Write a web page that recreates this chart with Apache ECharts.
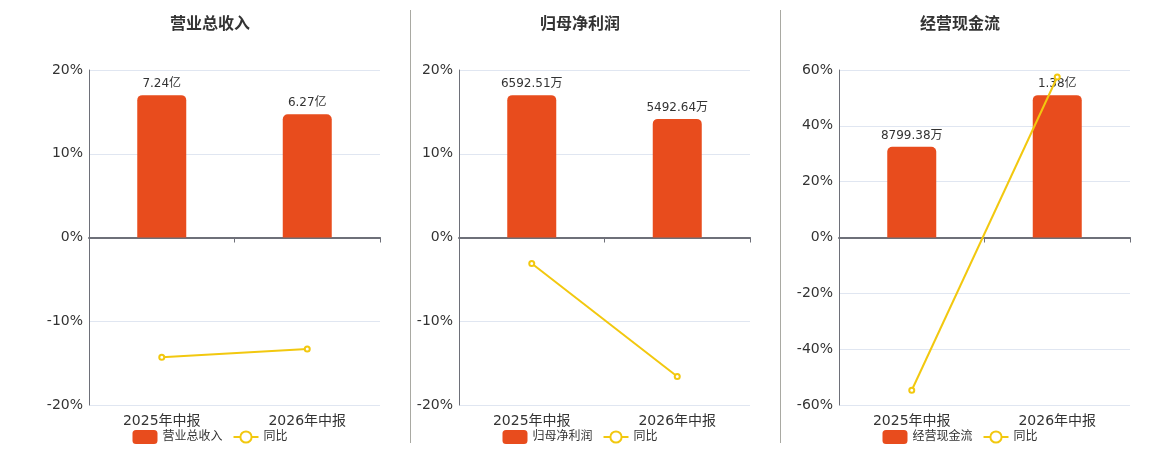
<!DOCTYPE html>
<html>
<head>
<meta charset="utf-8">
<script src="https://cdn.jsdelivr.net/npm/echarts@6/dist/echarts.min.js"></script>
<style>
  html, body { margin: 0; padding: 0; background: #fff; }
  .wrap { position: relative; width: 1160px; height: 450px; }
  .panel { position: absolute; top: 0; width: 370px; height: 450px; }
  .divider { position: absolute; top: 10px; height: 433px; width: 1px; background: #a9a9a2; }
</style>
</head>
<body>
<div class="wrap">
  <div id="c1" class="panel" style="left:25px"></div>
  <div id="c2" class="panel" style="left:395px"></div>
  <div id="c3" class="panel" style="left:775px"></div>
  <div class="divider" style="left:410px"></div>
  <div class="divider" style="left:780px"></div>
</div>
<script>
// periods
const categories = ['2025年中报', '2026年中报'];

// bar values in 万元
const revenueValues = [72400, 62700];
const profitValues = [6592.51, 5492.64];
const cashflowValues = [8799.38, 13800];

// year-over-year change, %
const revenueYoy = [-14.3, -13.3];
const profitYoy = [-3.1, -16.6];
const cashflowYoy = [-54.7, 57.5];

// percent axis: min, max, interval
const revenueAxis = [-20, 20, 10];
const profitAxis = [-20, 20, 10];
const cashflowAxis = [-60, 60, 20];

const BAR_COLOR = '#e84c1d';
const LINE_COLOR = '#f2c80f';
const FONT = 'DejaVu Sans, "Noto Sans CJK SC", sans-serif';

function fmtMoney(v) {
  if (v >= 10000) return (v / 10000).toFixed(2) + '亿';
  return v.toFixed(2) + '万';
}

function makeChart(id, title, name, bars, yoy, pctAxis) {
  const chart = echarts.init(document.getElementById(id));
  // bars sit on a hidden axis symmetric around zero so 0 lines up with 0%
  const barMax = Math.max(...bars) / 0.85;
  chart.setOption({
    animation: false,
    textStyle: { fontFamily: FONT },
    title: {
      text: title,
      left: 'center',
      top: 12,
      textStyle: { fontSize: 16, fontWeight: 'bold', color: '#333', fontFamily: FONT }
    },
    legend: {
      bottom: 1,
      left: 'center',
      itemWidth: 25,
      itemHeight: 14,
      itemGap: 10,
      textStyle: { fontSize: 12, color: '#333', fontFamily: FONT },
      data: [name, '同比']
    },
    grid: { left: 64, right: 15, top: 70, bottom: 45 },
    xAxis: [
      {
        type: 'category',
        data: categories,
        axisLine: { onZero: true, onZeroAxisIndex: 0, lineStyle: { color: '#6e7079', width: 2 } },
        axisTick: { show: true, lineStyle: { color: '#6e7079' } },
        axisLabel: { show: false }
      },
      {
        type: 'category',
        data: categories,
        position: 'bottom',
        axisLine: { show: false, onZero: false },
        axisTick: { show: false },
        axisLabel: { fontSize: 14, color: '#333', margin: 9, fontFamily: FONT }
      }
    ],
    yAxis: [
      {
        type: 'value',
        min: pctAxis[0],
        max: pctAxis[1],
        interval: pctAxis[2],
        axisLine: { show: true, lineStyle: { color: '#6e7079' } },
        axisTick: { show: false },
        axisLabel: { fontSize: 14, color: '#333', margin: 6, formatter: '{value}%', fontFamily: FONT },
        splitLine: { lineStyle: { color: '#e0e6f1' } }
      },
      {
        type: 'value',
        min: -barMax,
        max: barMax,
        show: false,
        splitLine: { show: false }
      }
    ],
    series: [
      {
        name: name,
        type: 'bar',
        xAxisIndex: 0,
        yAxisIndex: 1,
        data: bars,
        barWidth: 49,
        itemStyle: { color: BAR_COLOR, borderRadius: [5, 5, 0, 0] },
        label: {
          show: true,
          position: 'top',
          distance: 5,
          fontSize: 12,
          color: '#333',
          fontFamily: FONT,
          formatter: p => fmtMoney(p.value)
        }
      },
      {
        name: '同比',
        type: 'line',
        xAxisIndex: 0,
        yAxisIndex: 0,
        data: yoy,
        symbol: 'emptyCircle',
        symbolSize: 5,
        lineStyle: { color: LINE_COLOR, width: 2 },
        itemStyle: { color: LINE_COLOR, borderWidth: 1.5 }
      }
    ]
  });
  return chart;
}

makeChart('c1', '营业总收入', '营业总收入', revenueValues, revenueYoy, revenueAxis);
makeChart('c2', '归母净利润', '归母净利润', profitValues, profitYoy, profitAxis);
makeChart('c3', '经营现金流', '经营现金流', cashflowValues, cashflowYoy, cashflowAxis);
</script>
</body>
</html>
